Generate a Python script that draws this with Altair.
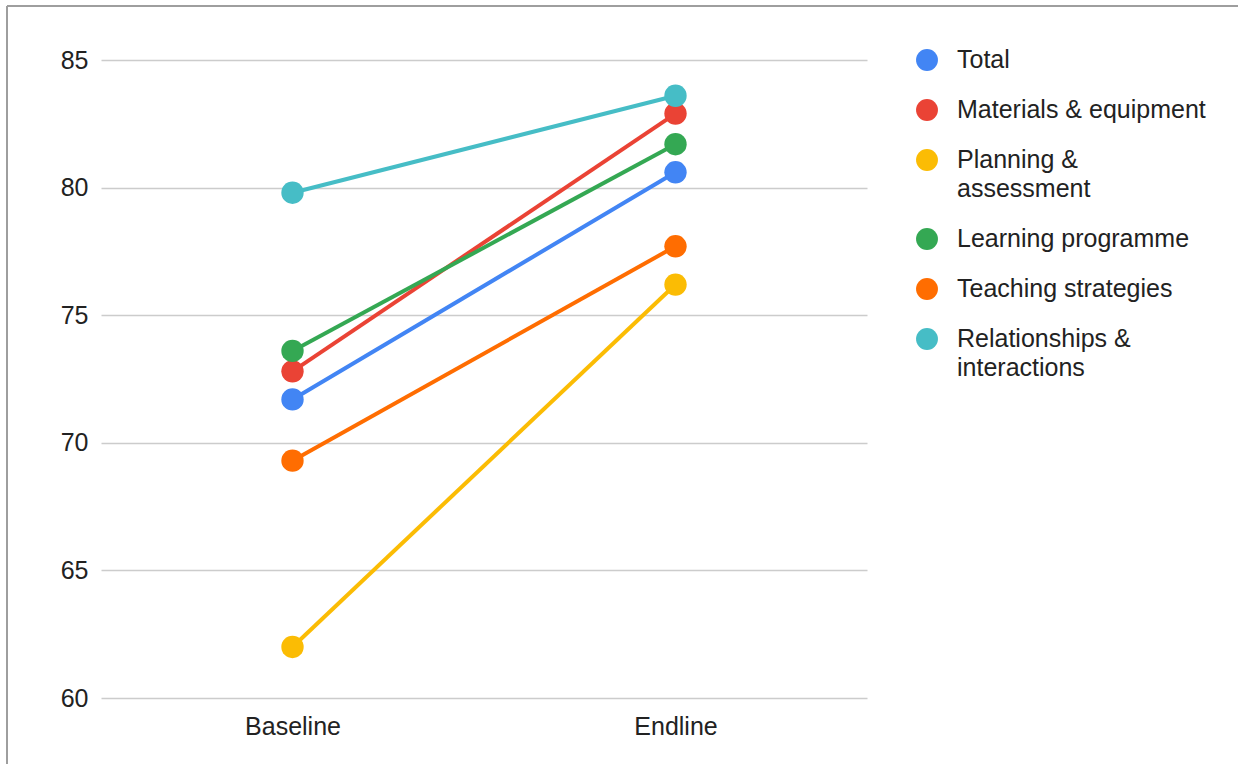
import altair as alt
import pandas as pd

# Survey domains and their average scores at the two measurement points
phases = ["Baseline", "Endline"]
series = [
    "Total",
    "Materials & equipment",
    "Planning & assessment",
    "Learning programme",
    "Teaching strategies",
    "Relationships & interactions",
]
baseline_scores = [71.7, 72.8, 62.0, 73.6, 69.3, 79.8]
endline_scores = [80.6, 82.9, 76.2, 81.7, 77.7, 83.6]
palette = ["#4285F4", "#EA4335", "#FBBC04", "#34A853", "#FF6D01", "#46BDC6"]
legend_text = [
    "Total",
    "Materials & equipment",
    "Planning &\nassessment",
    "Learning programme",
    "Teaching strategies",
    "Relationships &\ninteractions",
]
y_ticks = [60, 65, 70, 75, 80, 85]

FONT = "Liberation Sans"
FS = 25
PLOT_W, PLOT_H = 766, 638
ROW_GAP, LINE_H = 50, 29

rows = []
for i, name in enumerate(series):
    rows.append({"series": name, "phase": phases[0], "score": baseline_scores[i], "k": i})
    rows.append({"series": name, "phase": phases[1], "score": endline_scores[i], "k": i})
scores = pd.DataFrame(rows)

# legend rows: each entry is pushed down by the extra lines of the ones above it
slots, extra = [], 0
for i, txt in enumerate(legend_text):
    slots.append(i * ROW_GAP + extra * LINE_H)
    extra += txt.count("\n")
legend_df = pd.DataFrame({"series": series, "text": legend_text, "slot": slots, "k": range(len(series))})

color = alt.Color("series:N", scale=alt.Scale(domain=series, range=palette), legend=None)
x = alt.X("phase:N", sort=phases,
          scale=alt.Scale(type="point", domain=phases, padding=0.5),
          axis=alt.Axis(title=None, labelAngle=0, labelFontSize=FS, labelFont=FONT,
                        labelColor="#222222", labelPadding=16, ticks=False, domain=False,
                        grid=False))
y = alt.Y("score:Q", scale=alt.Scale(domain=[60, 85], nice=False, zero=False),
          axis=alt.Axis(title=None, values=y_ticks, labelFontSize=FS, labelFont=FONT,
                        labelColor="#222222", labelPadding=13, ticks=False, tickSize=0,
                        domain=False, grid=True, gridColor="#cccccc", gridWidth=1.5))

lines = alt.Chart(scores).mark_line(strokeWidth=4).encode(
    x=x, y=y, color=color, detail="series:N", order="k:Q")
points = alt.Chart(scores).mark_circle(size=500, opacity=1).encode(
    x=x, y=alt.Y("score:Q", scale=alt.Scale(domain=[60, 85], nice=False, zero=False)),
    color=color, order="k:Q")
main = alt.layer(lines, points)

ly = alt.Y("slot:Q", scale=alt.Scale(domain=[0, PLOT_H], range=[0, PLOT_H]), axis=None)
leg_pts = alt.Chart(legend_df).mark_circle(size=480, opacity=1).encode(
    x=alt.value(826), y=ly, color=color)
leg_txt = alt.Chart(legend_df).mark_text(
    align="left", baseline="top", dy=-12, fontSize=FS, font=FONT, color="#222222",
    lineBreak="\n", lineHeight=LINE_H).encode(x=alt.value(856), y=ly, text="text:N")
legend = alt.layer(leg_pts, leg_txt)

# grey frame along the top and left edges
frame_src = pd.DataFrame({"edge": ["frame"]})
frame_top = alt.Chart(frame_src).mark_rule(color="#9e9e9e", strokeWidth=2).encode(
    x=alt.value(-94), x2=alt.value(1137), y=alt.value(-54))
frame_left = alt.Chart(frame_src).mark_rule(color="#9e9e9e", strokeWidth=2).encode(
    x=alt.value(-94), y=alt.value(-54), y2=alt.value(704))

chart = alt.layer(frame_top, frame_left, main, legend).resolve_scale(
    y="independent"
).properties(
    width=PLOT_W, height=PLOT_H,
    padding={"left": 6, "top": 5, "right": 0, "bottom": 0},
    background="white",
).configure(font=FONT, view=alt.ViewConfig(stroke=None))

chart.save("out.html", embed_options={"renderer": "svg", "actions": False})
